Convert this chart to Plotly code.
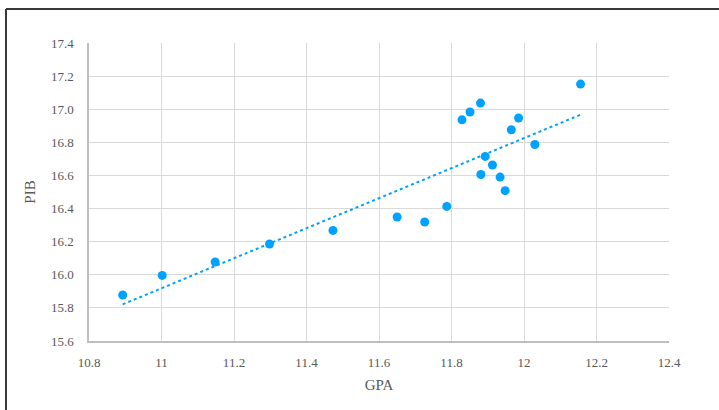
import numpy as np
import plotly.graph_objects as go

gpa = [10.893, 11.002, 11.148, 11.298, 11.473, 11.650, 11.726, 11.787, 11.829, 11.851,
       11.880, 11.881, 11.893, 11.913, 11.934, 11.948, 11.965, 11.985, 12.030, 12.156]
pib = [15.878, 15.996, 16.077, 16.186, 16.268, 16.349, 16.319, 16.413, 16.936, 16.983,
       17.037, 16.606, 16.715, 16.663, 16.590, 16.508, 16.876, 16.947, 16.787, 17.152]

x_ticks = [10.8, 11.0, 11.2, 11.4, 11.6, 11.8, 12.0, 12.2, 12.4]
x_tick_labels = ["10.8", "11", "11.2", "11.4", "11.6", "11.8", "12", "12.2", "12.4"]
y_ticks = [15.6, 15.8, 16.0, 16.2, 16.4, 16.6, 16.8, 17.0, 17.2, 17.4]
y_tick_labels = ["15.6", "15.8", "16.0", "16.2", "16.4", "16.6", "16.8", "17.0", "17.2", "17.4"]

color = "#00A2FF"
font_family = "Liberation Serif, Times New Roman, serif"
tick_font = dict(family=font_family, size=13, color="#595959")
title_font = dict(family=font_family, size=15, color="#595959")

slope, intercept = np.polyfit(gpa, pib, 1)
tx = np.array([min(gpa), max(gpa)])
ty = slope * tx + intercept

fig = go.Figure()
fig.add_trace(go.Scatter(x=tx, y=ty, mode="lines",
                         line=dict(color=color, width=2, dash="dot"),
                         showlegend=False, hoverinfo="skip"))
fig.add_trace(go.Scatter(x=gpa, y=pib, mode="markers",
                         marker=dict(color=color, size=9),
                         showlegend=False))

W, H = 719, 410
L, R, T, B = 89, 50, 43, 69
pw, ph = W - L - R, H - T - B

fig.update_layout(
    width=W, height=H,
    margin=dict(l=L, r=R, t=T, b=B),
    paper_bgcolor="white", plot_bgcolor="white",
    font=dict(family=font_family, color="#595959", size=13),
    xaxis=dict(range=[10.8, 12.4], tickvals=x_ticks, ticktext=x_tick_labels,
               tickfont=tick_font,
               showgrid=True, gridcolor="#d9d9d9", gridwidth=1,
               showline=True, linecolor="#bfbfbf", linewidth=1.5,
               zeroline=False, ticks="outside", ticklen=9, tickcolor="rgba(0,0,0,0)",
               title=dict(text="GPA", font=title_font, standoff=10)),
    yaxis=dict(range=[15.6, 17.4], tickvals=y_ticks, ticktext=y_tick_labels,
               tickfont=tick_font,
               showgrid=True, gridcolor="#d9d9d9", gridwidth=1,
               showline=True, linecolor="#bfbfbf", linewidth=1.5,
               zeroline=False, ticks="outside", ticklen=11, tickcolor="rgba(0,0,0,0)",
               title=dict(text="PIB", font=title_font, standoff=12)),
    shapes=[
        dict(type="line", xref="paper", yref="paper",
             x0=(6 - L) / pw, x1=(W + 5 - L) / pw,
             y0=(H - B - 9) / ph, y1=(H - B - 9) / ph,
             line=dict(color="#3a3a3a", width=2)),
        dict(type="line", xref="paper", yref="paper",
             x0=(6 - L) / pw, x1=(6 - L) / pw,
             y0=(H - B - 9) / ph, y1=(H - B - H - 10) / ph,
             line=dict(color="#3a3a3a", width=2)),
    ],
)

fig.write_html("out.html",
               config={"displayModeBar": False},
               post_script="document.body.style.margin='0';document.body.style.overflow='hidden';")
